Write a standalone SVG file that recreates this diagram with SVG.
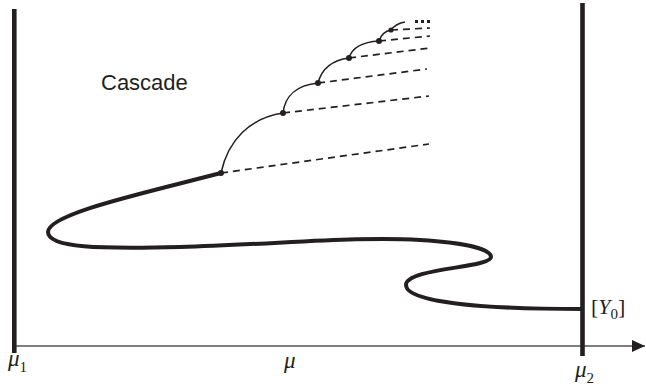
<svg xmlns="http://www.w3.org/2000/svg" width="646" height="386" viewBox="0 0 646 386">
<style>
.bar{stroke:#231f20;stroke-width:4.6;fill:none}
.thick{stroke:#231f20;stroke-width:4;fill:none;stroke-linecap:round}
.arc{stroke:#231f20;stroke-width:1.5;fill:none}
.dash{stroke:#231f20;stroke-width:1.7;fill:none;stroke-dasharray:7 5}
.dot{fill:#231f20}
.math{font-family:"Liberation Serif",serif;font-style:italic;fill:#231f20}
.sub{font-family:"Liberation Serif",serif;font-style:normal;fill:#231f20}
</style>
<defs>
<marker id="arr" markerWidth="14" markerHeight="12" refX="13" refY="6" orient="auto" markerUnits="userSpaceOnUse">
<path d="M0,0 L13,6 L0,12 z" fill="#231f20"/>
</marker>
</defs>
<g id="axis">
<line x1="14" y1="346" x2="645" y2="346" stroke="#555" stroke-width="1.4" marker-end="url(#arr)"/>
</g>
<g id="bar-left"><line class="bar" x1="14.3" y1="9" x2="14.3" y2="353"/></g>
<g id="bar-right"><line class="bar" x1="582.5" y1="3" x2="582.5" y2="356"/></g>
<g id="connectors">
<path id="main-curve" class="thick" d="M221,173 C140,194 48,214 48,232 C48,248 100,249 180,247 C280,244 360,236 420,240 C470,243 491,250 491,257 C491,268 406,268 406,285 C406,302 480,309 582,309"/>
<path class="arc" d="M221,173 C228,140 250,118 283,113"/>
<path class="arc" d="M283,113 C285,95 298,85 318,83"/>
<path class="arc" d="M318,83 C322,68 333,60 349,58"/>
<path class="arc" d="M349,58 C352,48 362,42 379,41"/>
<path class="arc" d="M379,41 C381,35 385,31 391,30"/>
<path class="arc" d="M391,30 C394,26 399,23 405,22"/>
<line class="dash" x1="221" y1="173" x2="429" y2="144"/>
<line class="dash" x1="283" y1="113" x2="429" y2="96"/>
<line class="dash" x1="318" y1="83" x2="427" y2="69"/>
<line class="dash" x1="349" y1="58" x2="430" y2="48"/>
<line class="dash" x1="379" y1="41" x2="430" y2="36"/>
<line class="dash" x1="391" y1="30" x2="430" y2="28"/>
<line x1="415" y1="21.5" x2="430" y2="21.5" stroke="#231f20" stroke-width="3" stroke-dasharray="3 3"/>
</g>
<g id="points">
<circle class="dot" cx="221" cy="173" r="3"/>
<circle class="dot" cx="283" cy="113" r="3"/>
<circle class="dot" cx="318" cy="83" r="3"/>
<circle class="dot" cx="349" cy="58" r="3"/>
<circle class="dot" cx="379" cy="41" r="3"/>
<circle class="dot" cx="391" cy="30" r="2.6"/>
</g>
<g id="labels">
<text x="101" y="90" font-family="Liberation Sans, Arial, sans-serif" font-size="22" fill="#231f20">Cascade</text>
<text class="math" x="8" y="366" font-size="23">μ<tspan class="sub" font-size="15" dy="6">1</tspan></text>
<text class="math" x="284" y="368" font-size="23">μ</text>
<text class="math" x="575" y="377" font-size="23">μ<tspan class="sub" font-size="15" dy="6">2</tspan></text>
<text class="sub" x="591" y="314" font-size="22">[<tspan class="math">Y</tspan><tspan font-size="15" dy="5">0</tspan><tspan dy="-5">]</tspan></text>
</g>
</svg>
